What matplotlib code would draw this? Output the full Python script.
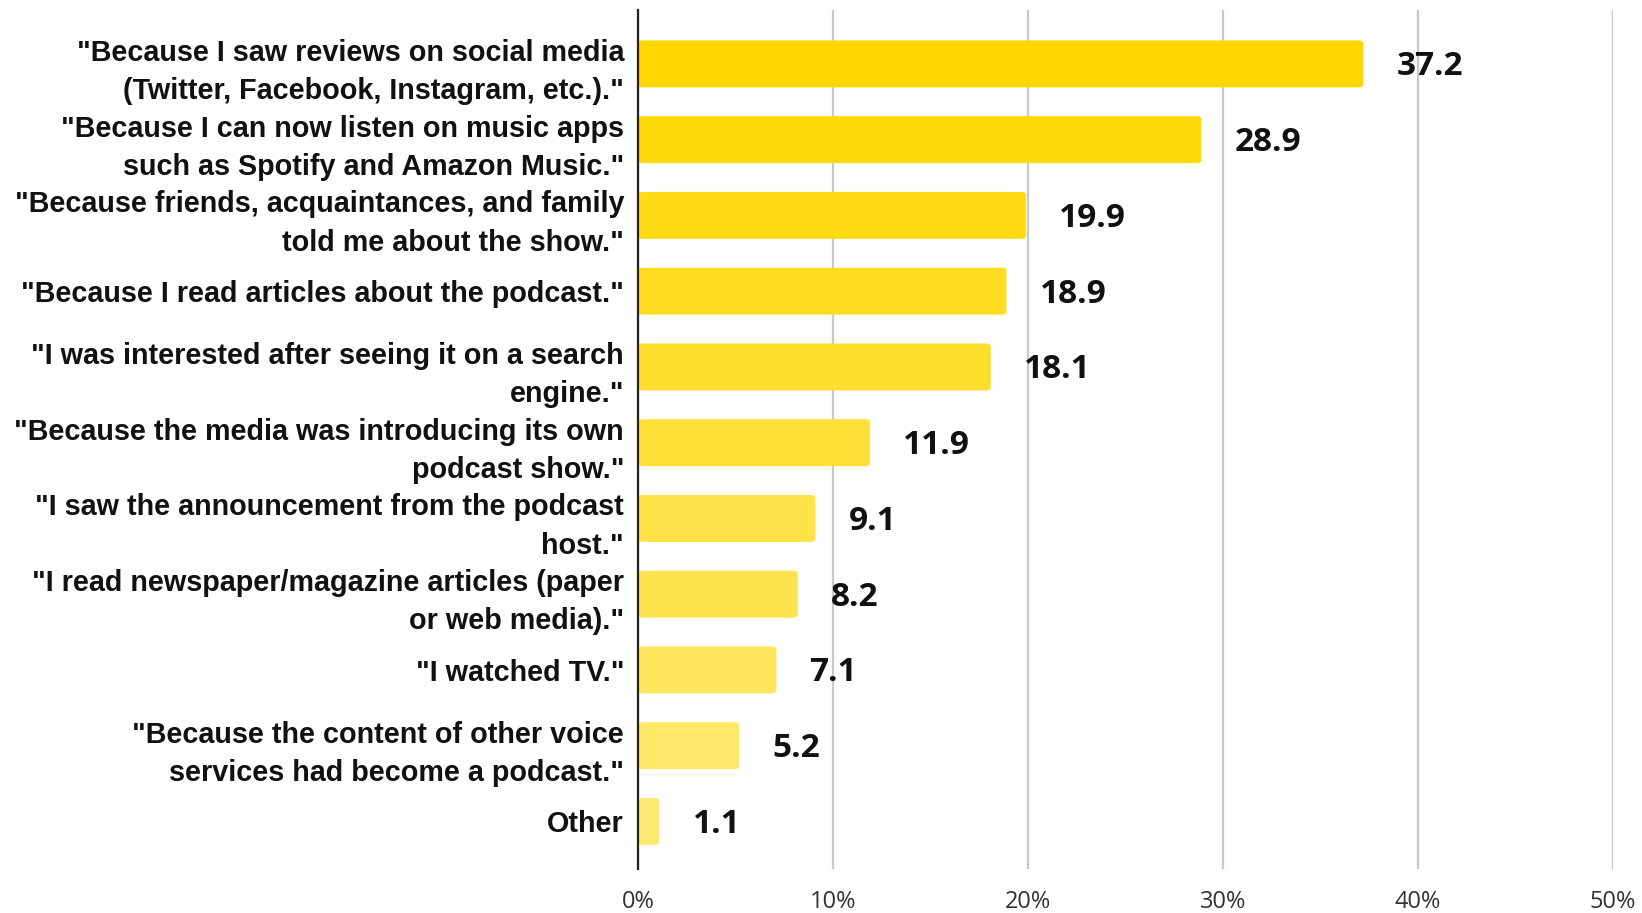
import matplotlib
matplotlib.use("Agg")
import matplotlib.pyplot as plt
from matplotlib.patches import FancyBboxPatch
import numpy as np

categories = [
    '"Because I saw reviews on social media\n(Twitter, Facebook, Instagram, etc.)."',
    '"Because I can now listen on music apps\nsuch as Spotify and Amazon Music."',
    '"Because friends, acquaintances, and family\ntold me about the show."',
    '"Because I read articles about the podcast."',
    '"I was interested after seeing it on a search\nengine."',
    '"Because the media was introducing its own\npodcast show."',
    '"I saw the announcement from the podcast\nhost."',
    '"I read newspaper/magazine articles (paper\nor web media)."',
    '"I watched TV."',
    '"Because the content of other voice\nservices had become a podcast."',
    'Other',
]
values = [37.2, 28.9, 19.9, 18.9, 18.1, 11.9, 9.1, 8.2, 7.1, 5.2, 1.1]
xticks = [0, 10, 20, 30, 40, 50]
xtick_labels = ["0%", "10%", "20%", "30%", "40%", "50%"]

fig = plt.figure(figsize=(16.42, 9.13), dpi=100)
ax = fig.add_axes([0.3885, 0.048, 0.9823 - 0.3885, 0.9885 - 0.048])

n = len(values)
ypos = np.arange(n)
bar_h = 0.62
base = np.array([255, 215, 0]) / 255.0
alphas = np.linspace(1.0, 0.55, n)

for y, v, a in zip(ypos, values, alphas):
    col = base * a + (1 - a)
    patch = FancyBboxPatch((0, y - bar_h / 2), v, bar_h,
                           boxstyle="round,pad=0,rounding_size=0.25",
                           mutation_aspect=0.16,
                           facecolor=col, edgecolor="none", zorder=3)
    ax.add_patch(patch)
    ax.text(v + 1.7, y + 0.04, f"{v:.1f}", va="center", ha="left",
            fontsize=24, fontweight="bold", family=["Open Sans", "DejaVu Sans"],
            color="#111111", zorder=4)

ax.set_xlim(0, 50)
ax.set_ylim(n - 1 + 0.63, -0.705)
ax.set_yticks(ypos)
ax.set_yticklabels(categories, fontsize=20.7, fontweight="bold",
                   family="Liberation Sans", linespacing=1.46, color="#111111")
ax.set_xticks(xticks)
ax.set_xticklabels(xtick_labels, fontsize=17, family="Open Sans",
                   color="#333333")
ax.tick_params(axis="y", length=0, pad=10)
ax.tick_params(axis="x", length=0, pad=15)

ax.grid(axis="x", color="#c8c8c8", linewidth=1.6, zorder=0)
for s in ["top", "right", "bottom"]:
    ax.spines[s].set_visible(False)
ax.spines["left"].set_color("#222222")
ax.spines["left"].set_linewidth(1.6)
ax.spines["left"].set_zorder(5)

fig.savefig("out.png", dpi=100, facecolor="white")
